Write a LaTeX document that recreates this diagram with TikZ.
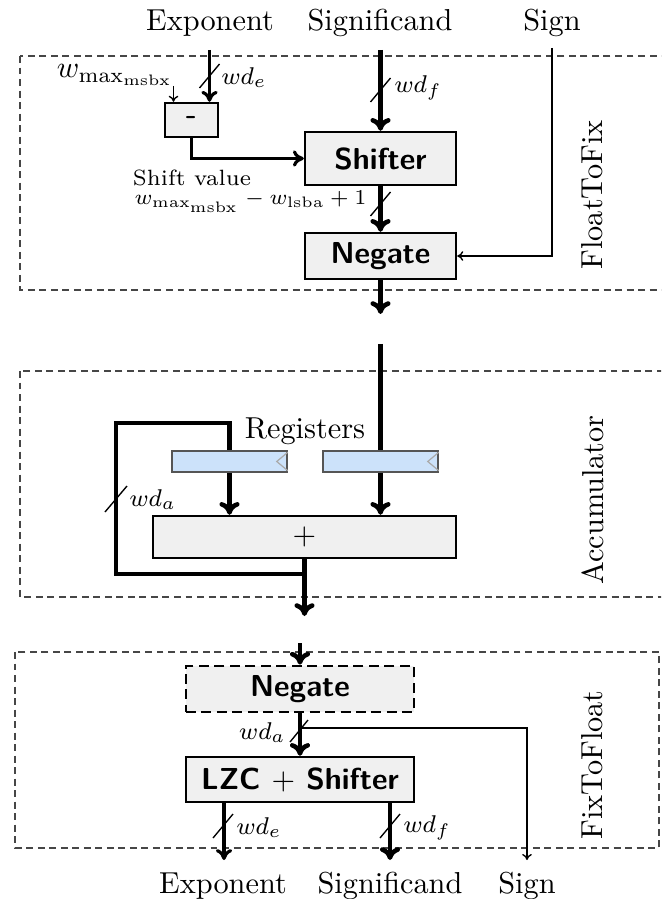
\documentclass[tikz,border=0pt]{standalone}
\usetikzlibrary{calc,arrows.meta}
\definecolor{blockfill}{RGB}{240,240,240}
\definecolor{regfill}{RGB}{204,226,250}
\definecolor{regline}{RGB}{85,85,85}
\definecolor{clkline}{RGB}{170,170,170}
\definecolor{regionline}{RGB}{70,70,70}
\begin{document}
\begin{tikzpicture}[x=0.33pt,y=-0.33pt,
  block/.style={draw=black,line width=0.8pt,fill=blockfill,inner sep=0pt,font=\sffamily\bfseries},
  dashblock/.style={block,dash pattern=on 3.3pt off 1.8pt,line width=0.9pt},
  regbox/.style={draw=regline,line width=0.5pt,fill=regfill,inner sep=0pt,minimum width=37.95pt,minimum height=6.93pt},
  clock/.style={draw=clkline,line width=0.4pt},
  region/.style={draw=regionline,line width=0.45pt,dash pattern=on 2.3pt off 1.5pt},
  bigline/.style={line width=1.5pt},
  bigbus/.style={bigline,-{To[length=4.2pt,width=6.6pt]}},
  midbus/.style={line width=1.05pt,-{To[length=3.6pt,width=5.4pt]}},
  thinwire/.style={line width=0.45pt,-{To[length=2pt,width=3.2pt]}},
  slashmark/.style={line width=0.45pt},
  buslabel/.style={inner sep=0pt,font=\footnotesize},
  regionlabel/.style={rotate=90}
]
\clip (0,0) rectangle (661,899);

% regions
\draw[region] (20,56) rectangle (680,290);
\draw[region] (20,371) rectangle (680,597);
\draw[region] (15,652) rectangle (659,848);
\node[regionlabel] (lab1) at (592,195) {FloatToFix};
\node[regionlabel] (lab2) at (593,500) {Accumulator};
\node[regionlabel] (lab3) at (592,765) {FixToFloat};

% top inputs
\node[anchor=base] (expIn) at (210,31) {Exponent};
\node[anchor=base] (sigIn) at (380,31) {Significand};
\node[anchor=base] (sgnIn) at (552,31) {Sign};

% FloatToFix blocks
\node[block,minimum width=17.49pt,minimum height=11.22pt] (minus) at (191.5,120) {-};
\node[block,minimum width=49.83pt,minimum height=17.49pt] (shifter) at (380.5,158.5) {Shifter};
\node[block,minimum width=49.83pt,minimum height=15.18pt] (neg1) at (380.5,256) {Negate};

\node[anchor=south east,inner sep=0pt] (wl) at (173.5,86) {$w_{\mathrm{max}_{\mathrm{msbx}}}$};
\node[buslabel,anchor=west] (wde1) at (221,78) {$wd_e$};
\node[buslabel,anchor=west] (wdf1) at (394,88) {$wd_f$};
\node[inner sep=0pt,font=\fontsize{7.3}{9}\selectfont] (shv) at (192,178) {Shift value};
\node[inner sep=0pt,anchor=east,font=\fontsize{6.8}{8}\selectfont] (wform) at (367,202) {$w_{\mathrm{max}_{\mathrm{msbx}}} - w_{\mathrm{lsba}} + 1$};

\coordinate (e0) at (209.5,50);
\coordinate (s0) at (380.5,50);
\coordinate (g0) at (552,48);
\coordinate (a1) at (380.5,314);

\draw[midbus] (e0) -- (e0 |- minus.north);
\draw[thinwire] (wl.south east) -- (wl.south east |- minus.north);
\draw[midbus] (minus.south) |- (shifter.west);
\draw[bigbus] (s0) -- (shifter.north);
\draw[bigbus] (shifter.south) -- (neg1.north);
\draw[thinwire] (g0) |- (neg1.east);
\draw[bigbus] (neg1.south) -- (a1);

\coordinate (sl1) at (209.5,76);
\coordinate (sl2) at (380.5,90);
\coordinate (sl3) at (380.5,204);
\draw[slashmark] ($(sl1)+(-10,12)$) -- ($(sl1)+(10,-12)$);
\draw[slashmark] ($(sl2)+(-10,12)$) -- ($(sl2)+(10,-12)$);
\draw[slashmark] ($(sl3)+(-10,12)$) -- ($(sl3)+(10,-12)$);

% Accumulator
\node[anchor=base] (regl) at (305,438) {Registers};
\node[regbox] (reg1) at (229.5,461.5) {};
\node[regbox] (reg2) at (380.5,461.5) {};
\draw[clock] ($(reg1.north east)+(0,2)$) -- ($(reg1.east)+(-11,0)$) -- ($(reg1.south east)+(0,-2)$);
\draw[clock] ($(reg2.north east)+(0,2)$) -- ($(reg2.east)+(-11,0)$) -- ($(reg2.south east)+(0,-2)$);
\node[block,font=\normalfont,minimum width=99.99pt,minimum height=13.86pt] (adder) at (304.5,537) {$+$};

\coordinate (a2) at (380.5,344);
\coordinate (lb) at (304.5,574);
\coordinate (lc) at (116,423);
\coordinate (a3) at (304.5,616);

\draw[bigline] (a2) -- (reg2.north);
\draw[bigbus] (reg2.south) -- (reg2.south |- adder.north);
\draw[bigbus] (reg1.south) -- (reg1.south |- adder.north);
\draw[bigbus] (adder.south) -- (a3);
\draw[bigline] (lb) -| (lc) -| (reg1.north);
\coordinate (sl4) at (116,499);
\draw[slashmark] ($(sl4)+(-11,13)$) -- ($(sl4)+(11,-13)$);
\node[buslabel,anchor=west] (wda1) at (129,500) {$wd_a$};

% FixToFloat
\node[dashblock,minimum width=75.24pt,minimum height=15.18pt] (neg2) at (300,689) {Negate};
\node[block,minimum width=75.24pt,minimum height=14.85pt] (lzc) at (300,779.5) {LZC $+$ Shifter};

\coordinate (b0) at (300,643);
\coordinate (t0) at (300,728);
\coordinate (so) at (527,860);
\coordinate (xo) at (224,860);
\coordinate (fo) at (390,860);

\draw[bigbus] (b0) -- (neg2.north);
\draw[bigbus] (neg2.south) -- (lzc.north);
\draw[thinwire] (t0) -| (so);
\draw[midbus] (lzc.south -| xo) -- (xo);
\draw[bigbus] (lzc.south -| fo) -- (fo);

\coordinate (sl5) at (299,731);
\coordinate (sl6) at (223,826);
\coordinate (sl7) at (390,826);
\draw[slashmark] ($(sl5)+(-9,11)$) -- ($(sl5)+(9,-11)$);
\draw[slashmark] ($(sl6)+(-10,12)$) -- ($(sl6)+(10,-12)$);
\draw[slashmark] ($(sl7)+(-10,12)$) -- ($(sl7)+(10,-12)$);
\node[buslabel,anchor=east] (wda2) at (286,733) {$wd_a$};
\node[buslabel,anchor=west] (wde2) at (236,828) {$wd_e$};
\node[buslabel,anchor=west] (wdf2) at (403,828) {$wd_f$};

\node[anchor=base] (expOut) at (223,893) {Exponent};
\node[anchor=base] (sigOut) at (390,893) {Significand};
\node[anchor=base] (sgnOut) at (527,893) {Sign};
\end{tikzpicture}
\end{document}
